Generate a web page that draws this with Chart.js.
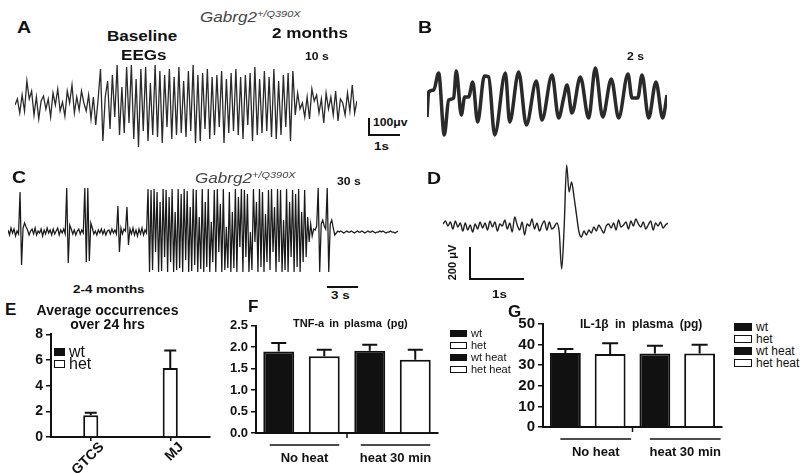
<!DOCTYPE html>
<html>
<head>
<script src="https://cdn.jsdelivr.net/npm/chart.js"></script>
<style>
    body { margin: 0; background: #fff; font-family: Arial, "Liberation Sans", sans-serif; color: #111; }
    #fig { position: relative; width: 800px; height: 473px; overflow: hidden; background: #fff; }
    .box { position: absolute; }
    .t { position: absolute; white-space: nowrap; line-height: 1; font-weight: bold; }
    .sx { transform: scaleX(1.22); transform-origin: 0 0; }
    .letter { font-size: 16px; }
    .it { font-style: italic; font-weight: normal; color: #444; font-size: 14px; }
    .it sup { font-size: 9px; vertical-align: 5px; }
    .line { position: absolute; background: #111; }
    .legend { position: absolute; font-size: 11px; }
    .legend .row { display: flex; align-items: center; height: 12px; }
    .legend .sw { border: 1.5px solid #111; box-sizing: border-box; margin-right: 4px; }
</style>
</head>
<body>
<div id="fig">
    <!-- EEG traces -->
    <div class="box" style="left:15px;top:60px;width:342px;height:90px"><canvas id="eegA"></canvas></div>
    <div class="box" style="left:427px;top:65px;width:240px;height:75px"><canvas id="eegB"></canvas></div>
    <div class="box" style="left:8px;top:183px;width:390px;height:95px"><canvas id="eegC"></canvas></div>
    <div class="box" style="left:443px;top:160px;width:225px;height:118px"><canvas id="eegD"></canvas></div>

    <!-- bar charts -->
    <div class="box" style="left:0px;top:323px;width:215px;height:150px"><canvas id="barE"></canvas></div>
    <div class="box" style="left:215px;top:315px;width:225px;height:158px"><canvas id="barF"></canvas></div>
    <div class="box" style="left:495px;top:312px;width:230px;height:161px"><canvas id="barG"></canvas></div>

    <!-- panel A -->
    <div class="t sx letter" style="left:17px;top:20px">A</div>
    <div class="t sx it" style="left:200px;top:10px">Gabrg2<sup>+/Q390X</sup></div>
    <div class="t sx" style="left:107px;top:29px;font-size:14px">Baseline</div>
    <div class="t sx" style="left:121px;top:48px;font-size:14px">EEGs</div>
    <div class="t sx" style="left:272px;top:26px;font-size:14px">2 months</div>
    <div class="t sx" style="left:305px;top:52px;font-size:10px">10 s</div>
    <div class="line" style="left:368px;top:118px;width:1.5px;height:17px"></div>
    <div class="line" style="left:368px;top:134px;width:32px;height:1.5px"></div>
    <div class="t sx" style="left:373px;top:118px;font-size:10px">100μv</div>
    <div class="t sx" style="left:374px;top:141px;font-size:11px">1s</div>

    <!-- panel B -->
    <div class="t sx letter" style="left:418px;top:20px">B</div>
    <div class="t sx" style="left:627px;top:52px;font-size:10px">2 s</div>

    <!-- panel C -->
    <div class="t sx letter" style="left:12px;top:170px">C</div>
    <div class="t sx it" style="left:195px;top:171px">Gabrg2<sup>+/Q390X</sup></div>
    <div class="t sx" style="left:337px;top:177px;font-size:10px">30 s</div>
    <div class="t sx" style="left:73px;top:284px;font-size:11px">2-4 months</div>
    <div class="line" style="left:327px;top:286px;width:31px;height:1.5px"></div>
    <div class="t sx" style="left:331px;top:290px;font-size:11px">3 s</div>

    <!-- panel D -->
    <div class="t sx letter" style="left:427px;top:171px">D</div>
    <div class="line" style="left:469px;top:247px;width:1.5px;height:32px"></div>
    <div class="line" style="left:469px;top:278px;width:55px;height:1.5px"></div>
    <div class="t" style="left:426px;top:257px;font-size:11px;transform:rotate(-90deg);width:52px;text-align:center">200 μV</div>
    <div class="t sx" style="left:492px;top:289px;font-size:11px">1s</div>

    <!-- panel E -->
    <div class="t letter" style="left:5px;top:301px;font-size:17px">E</div>
    <div class="t" style="left:0px;top:303px;width:215px;text-align:center;font-size:14px">Average occurrences</div>
    <div class="t" style="left:0px;top:317px;width:215px;text-align:center;font-size:14px">over 24 hrs</div>
    <div class="legend" id="legE" style="left:54px;top:346px;font-size:16px"></div>

    <!-- panel F -->
    <div class="t letter" style="left:248px;top:298px;font-size:17px">F</div>
    <div class="t" style="left:293px;top:318px;font-size:11px;word-spacing:2px">TNF-a in plasma (pg)</div>
    <div class="legend" id="legF" style="left:450px;top:327px"></div>

    <!-- panel G -->
    <div class="t letter" style="left:508px;top:303px;font-size:17px">G</div>
    <div class="t" style="left:580px;top:318px;font-size:12px;word-spacing:3px">IL-1β in plasma (pg)</div>
    <div class="legend" id="legG" style="left:734px;top:321px;font-size:12px"></div>
</div>

<script>
    // EEG traces (vertical displacement, arbitrary units, evenly sampled)
    const eegA = [0, 6, -8, 10, -6, 24, 6, 14, -10, 8, -14, 4, 9, -4, 6, -12, 12, 0, 16, -6, 3, -11, 14, 2, 20, -8, 8, -5,
        14, 2, -6, 10, -14, 8, -20, 6,
        36, -36, 8, 24, -24, 30, -12, 40, -30, 18, -28, 38, -18, 40, -34, 26, -42, 36, -26, 38, -36, 22, -30, 40,
        -32, 34, -38, 30, -22, 36, -34, 28, -30, 38, -28, 24, -32, 34, -26, 40, -38, 30, -36, 32, -24, 36, -34, 28,
        -30, 30, -22, 34, -38, 26, -28, 32, -26, 36, -30, 28, -34, 30, -20, 32, -36, 38, -30, 26, -28, 34, -26, 28,
        -32, 36, -34, 24, -30, 30, -22, 32, -36, 34,
        -10, 12, -4, 2, -12, 8, -14, 16, 4, 10, -8, 6, -18, 12, -4, 8, -10, 14, -16, 6, 2, -10, 12, -6, 20, -8, 4];

    // B is read at its turning points: time (ms) and displacement
    const eegBTime = [0, 14, 56, 97, 144, 181, 222, 244, 286, 314, 347, 381, 422, 478, 514, 564, 653, 689, 764, 828,
        911, 958, 1042, 1097, 1139, 1167, 1208, 1278, 1347, 1403, 1464, 1536, 1597, 1675, 1708, 1756, 1792, 1847,
        1908, 1964, 2000];
    const eegB = [-17, 8, 10, 27, -35, 0, 2, 29, -15, 3, 3, 18, -22, 24, 23, -35, 27, -22, 28, -25, 19, -20, 25, -18,
        2, 15, -13, 23, -18, 32, -17, 21, -18, 26, 2, 2, 25, -18, 18, -18, 5];

    const eegC = [2, -3, 4, -1, 3, -4, 1, -2, 40, -33, 4, 9, 5,
        2, -3, 1, 3, -2, 4, -3, 1, -1, 3, -4, 2, -2, 4, -1, 2, -3, 3, -2, 1, 4, -3, 2, -1, 3, -2,
        44, -31, 7, 3, -2, 2, -3, 1, 3, -2, 2, -1, 44, -30, 44, -29, 9, 4,
        -2, 1, -3, 2, -1, 3, -2, 2, -3, 1, 2, -2, 3, -1, 2, -2, 26, -20, 4, -2, 3, 1, 25, -13, 3,
        -2, 4, -3, 2, -4, 3, -2, 4, -3, 2, -1,
        43, -40, 42, -38, 43, -20, 40, -40, 30, -39, 43, -25, 42, -40, 35, -30, 43, -40, 20, -38,
        43, -36, 38, -40, 43, -28, 41, -40, 25, -39, 43, -33, 42, -40, 15, -37, 43, -40, 30, -35,
        43, -40, 10, -30, 42, -40, 43, -20, 28, -40, 43, -38, 5, -36, 40, -40, 20, -36, 43, -40,
        35, -15, 43, -40, 42, -25, 38, -40, 0, -38, 43, -10, 30, -40, 43, -35, 40, -40, 18, -30,
        42, -38, 43, -20, 25, -40, 43, -30, 42, -40, 12, -38, 43, -40, 30, -25, 42, -40, 38, -35,
        43, -40, 20, -30, 42, -25, 15, -10, 8, -4,
        3, 2, 6, 44, -40, 8, 12, 6, 3, 44, -40, 8, 12, 4, -3, -1, 1, 0,
        1, 0, -1, 0, 1, 0, 0, 1, 0, -1, 0, 1, 0, 0, 1, 0, -1, 0, 1, 0, 0, 1, 0, -1, 0, 0, 1, 0, 1, 0, -1, 0, 0, 1,
        0, 0, -1, 0, 1];
    const eegD = [3, 6, 1, 5, -2, 6, 0, 4, -4, 4, -3, 2, -5, 3, -2, 5, -1, 4, -3, 6, 0, 5, -4, 3, 1, 7, -2, 4, -5, 10,
        2, -3, 5, -8, 3, 1, 8, -2, 4, -4, 2, 6, -3, 5, -2, 0, 4, -5,
        -42, 0, 62, 35, 45, 30, 12, -5, -10, -4, -8, -3, -6, 0, -4, 2, -2, -6, 1, 3, -1, 4, -3, 7, 0, 2, 5, -2, 6, 1,
        8, 3, 0, 5, -2, 2, 6, -3, 4, 1, 5, -1, 2, 4];

    // E: average occurrences over 24 hrs
    const seizureTypes = ['GTCS', 'MJ'];
    const occWt = [0, 0];
    const occHet = [1.7, 5.38];
    const occHetErr = [0.2, 1.37];

    // F, G: plasma cytokines
    const groups = ['wt', 'het', 'wt heat', 'het heat'];
    const groupColors = ['#111', '#fff', '#111', '#fff'];
    const conditions = ['No heat', 'heat 30 min'];
    const tnf = [1.90, 1.79, 1.92, 1.71];
    const tnfErr = [0.20, 0.15, 0.14, 0.23];
    const il1b = [35.9, 35.4, 35.7, 35.7];
    const il1bErr = [2.0, 5.2, 3.7, 4.2];

    function trace(id, values, min, max, width, color, times, smooth) {
        const linear = !!times;
        new Chart(id, {
            type: 'line',
            data: {
                labels: linear ? undefined : values.map((v, i) => i),
                datasets: [{
                    data: linear ? values.map((v, i) => ({ x: times[i], y: v })) : values,
                    borderColor: color, borderWidth: width, pointRadius: 0,
                    cubicInterpolationMode: smooth ? 'monotone' : 'default', tension: 0
                }]
            },
            options: {
                animation: false, responsive: true, maintainAspectRatio: false,
                layout: { padding: 0 },
                plugins: { legend: { display: false }, tooltip: { enabled: false } },
                scales: {
                    x: linear ? { type: 'linear', display: false, min: times[0], max: times[times.length - 1] } : { display: false },
                    y: { display: false, min: min, max: max }
                }
            }
        });
    }

    trace('eegA', eegA, -45, 45, 1.3, '#2a2a2a');
    trace('eegB', eegB, -40, 35, 3.5, '#2a2a2a', eegBTime, true);
    trace('eegC', eegC, -46, 49, 1.25, '#1a1a1a');
    trace('eegD', eegD, -51, 67, 1.4, '#222', null, true);

    // error bars (upper only) drawn from each dataset's errors array
    const errorBars = {
        id: 'errorBars',
        afterDatasetsDraw(chart, args, opts) {
            const ctx = chart.ctx;
            chart.data.datasets.forEach((ds, di) => {
                if (!ds.errors) return;
                chart.getDatasetMeta(di).data.forEach((bar, i) => {
                    const top = chart.scales.y.getPixelForValue(ds.data[i] + ds.errors[i]);
                    ctx.save();
                    ctx.strokeStyle = '#111';
                    ctx.lineWidth = 2;
                    ctx.beginPath();
                    ctx.moveTo(bar.x, bar.y);
                    ctx.lineTo(bar.x, top);
                    ctx.moveTo(bar.x - opts.cap, top);
                    ctx.lineTo(bar.x + opts.cap, top);
                    ctx.stroke();
                    ctx.restore();
                });
            });
        }
    };

    // condition brackets under the x axis
    const groupLines = {
        id: 'groupLines',
        afterDraw(chart, args, opts) {
            if (!opts.names) return;
            const x = chart.scales.x, ctx = chart.ctx, yb = chart.chartArea.bottom;
            ctx.save();
            ctx.strokeStyle = '#111';
            ctx.fillStyle = '#111';
            ctx.lineWidth = 1.5;
            const mid = (x.getPixelForValue(1) + x.getPixelForValue(2)) / 2;
            ctx.beginPath();
            ctx.moveTo(mid, yb);
            ctx.lineTo(mid, yb + 5);
            ctx.stroke();
            opts.names.forEach((name, g) => {
                const a = x.getPixelForValue(g * 2) - opts.lead;
                const b = x.getPixelForValue(g * 2 + 1) + opts.trail;
                ctx.beginPath();
                ctx.moveTo(a, yb + 12);
                ctx.lineTo(b, yb + 12);
                ctx.stroke();
                ctx.font = 'bold 13px Arial';
                ctx.textAlign = 'center';
                ctx.textBaseline = 'middle';
                ctx.fillText(name, (a + b) / 2, yb + 25);
            });
            ctx.restore();
        }
    };

    function barChart(id, o) {
        return new Chart(id, {
            type: 'bar',
            data: { labels: o.labels, datasets: o.datasets },
            options: {
                animation: false, responsive: true, maintainAspectRatio: false,
                layout: { padding: { top: o.padTop, right: o.padRight, left: 0, bottom: 0 } },
                plugins: {
                    legend: { display: false }, tooltip: { enabled: false },
                    errorBars: { cap: o.cap },
                    groupLines: o.groupLines || {}
                },
                scales: {
                    x: {
                        grid: { display: true, offset: false, drawOnChartArea: false, drawTicks: o.xTicks, tickLength: 4, color: '#111', lineWidth: 1.5 },
                        border: { color: '#111', width: 2 },
                        ticks: {
                            display: o.xLabels, color: '#111', minRotation: 45, maxRotation: 45, padding: -2, labelOffset: 11,
                            font: { family: 'Arial', weight: 'bold', size: 14 }
                        },
                        afterFit(s) { s.height = o.xHeight; }
                    },
                    y: {
                        min: 0, max: o.max,
                        grid: { drawOnChartArea: false, tickLength: 5, color: '#111', lineWidth: 1.5 },
                        border: { color: '#111', width: 2 },
                        ticks: {
                            stepSize: o.step, autoSkip: false, color: '#111', padding: 3,
                            font: { family: 'Arial', weight: 'bold', size: o.tickSize },
                            callback: v => o.fmt(v)
                        },
                        afterFit(s) { s.width = o.yWidth; }
                    }
                }
            },
            plugins: [errorBars, groupLines]
        });
    }

    barChart('barE', {
        labels: seizureTypes,
        datasets: [
            { data: occWt, backgroundColor: '#111', borderWidth: 0, grouped: false, categoryPercentage: 1, barPercentage: 0.19 },
            { data: occHet, errors: occHetErr, backgroundColor: '#fff', borderColor: '#111', borderWidth: 2, grouped: false, categoryPercentage: 1, barPercentage: 0.19 }
        ],
        max: 8, step: 2, tickSize: 14, fmt: v => v, yWidth: 51, padTop: 10, padRight: 5, xHeight: 36,
        xTicks: true, xLabels: true, cap: 6
    });

    barChart('barF', {
        labels: groups,
        datasets: [{ data: tnf, errors: tnfErr, backgroundColor: groupColors, borderColor: '#111', borderWidth: 2, categoryPercentage: 1, barPercentage: 0.68 }],
        max: 2.5, step: 0.5, tickSize: 13, fmt: v => v.toFixed(1), yWidth: 41, padTop: 10, padRight: 2, xHeight: 40,
        xTicks: false, xLabels: false, cap: 7.5,
        groupLines: { names: conditions, lead: 9, trail: 15 }
    });

    barChart('barG', {
        labels: groups,
        datasets: [{ data: il1b, errors: il1bErr, backgroundColor: groupColors, borderColor: '#111', borderWidth: 2, categoryPercentage: 1, barPercentage: 0.69 }],
        max: 50, step: 10, tickSize: 15, fmt: v => v, yWidth: 48, padTop: 10, padRight: 3, xHeight: 46,
        xTicks: false, xLabels: false, cap: 8,
        groupLines: { names: conditions, lead: 5, trail: 21 }
    });

    // legends
    function legend(id, names, colors, w, h) {
        document.getElementById(id).innerHTML = names.map((n, i) =>
            '<div class="row"><div class="sw" style="width:' + w + 'px;height:' + h + 'px;background:' + colors[i] + '"></div>' + n + '</div>'
        ).join('');
    }
    legend('legE', ['wt', 'het'], ['#111', '#fff'], 11, 8);
    legend('legF', groups, groupColors, 17, 7);
    legend('legG', groups, groupColors, 18, 8);
</script>
</body>
</html>
